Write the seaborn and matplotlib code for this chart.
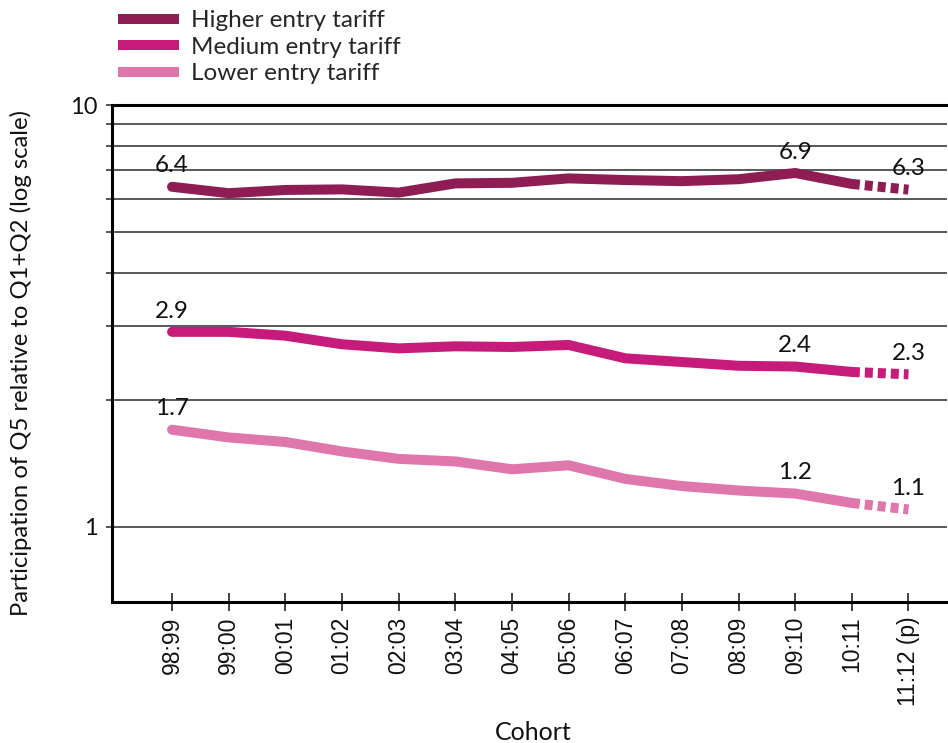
import numpy as np
import pandas as pd
import matplotlib
matplotlib.use("Agg")
import matplotlib.pyplot as plt
from matplotlib.lines import Line2D
from matplotlib.ticker import FixedLocator, FixedFormatter, NullFormatter
import seaborn as sns

# Cohorts (last one is provisional)
cohorts = ["98:99", "99:00", "00:01", "01:02", "02:03", "03:04", "04:05",
           "05:06", "06:07", "07:08", "08:09", "09:10", "10:11", "11:12 (p)"]

# Participation of Q5 relative to Q1+Q2, by entry-tariff group
higher = [6.4, 6.18, 6.29, 6.31, 6.2, 6.52, 6.54, 6.7, 6.64, 6.6, 6.67, 6.9, 6.5, 6.3]
medium = [2.9, 2.9, 2.84, 2.71, 2.65, 2.68, 2.67, 2.70, 2.51, 2.46, 2.41, 2.4, 2.33, 2.3]
lower = [1.7, 1.63, 1.59, 1.51, 1.45, 1.43, 1.37, 1.40, 1.30, 1.25, 1.22, 1.2, 1.14, 1.1]

series_names = ["Higher entry tariff", "Medium entry tariff", "Lower entry tariff"]
colors = ["#8E1D54", "#C71B7B", "#DF76AC"]
labelled_idx = [0, 11, 13]
last_actual = 12  # index of the last non-provisional cohort

sns.set_theme(style="white")
plt.rcParams["font.family"] = ["Lato", "DejaVu Sans"]

frames = []
for name, vals in zip(series_names, [higher, medium, lower]):
    frames.append(pd.DataFrame({"tariff": name,
                                "pos": np.arange(len(cohorts)),
                                "value": vals}))
df = pd.concat(frames, ignore_index=True)
actual = df[df["pos"] <= last_actual]
projected = df[df["pos"] >= last_actual]
palette = dict(zip(series_names, colors))

fig = plt.figure(figsize=(9.48, 7.43), dpi=100)
ax = fig.add_axes([112 / 948, 1 - 602 / 743, 835 / 948, 497 / 743])
ax.set_yscale("log")

LW = 7.2
sns.lineplot(data=actual, x="pos", y="value", hue="tariff", palette=palette,
             hue_order=series_names, errorbar=None, linewidth=LW, legend=False,
             ax=ax, solid_capstyle="round", solid_joinstyle="round", zorder=3)
n_before = len(ax.lines)
sns.lineplot(data=projected, x="pos", y="value", hue="tariff", palette=palette,
             hue_order=series_names, errorbar=None, linewidth=LW, legend=False,
             ax=ax, zorder=3)
for ln in ax.lines[n_before:]:
    ln.set_linestyle((0, (0.8, 0.5)))
    ln.set_dash_capstyle("butt")

# value labels
for vals in [higher, medium, lower]:
    for i in labelled_idx:
        ax.annotate(f"{vals[i]:.1f}", (i, vals[i]), xytext=(0, 15),
                    textcoords="offset points", ha="center", va="center",
                    fontsize=17.5, color="#111111", zorder=4)

# axes limits and scales
ax.set_xlim(-1.06, 13.68)
ax.set_ylim(0.664, 10)

ax.yaxis.set_major_locator(FixedLocator([1, 10]))
ax.yaxis.set_major_formatter(FixedFormatter(["1", "10"]))
ax.yaxis.set_minor_locator(FixedLocator([2, 3, 4, 5, 6, 7, 8, 9]))
ax.yaxis.set_minor_formatter(NullFormatter())
ax.yaxis.grid(True, which="both", color="#3c3c3c", linewidth=1.2)
ax.xaxis.grid(False)
ax.set_axisbelow(True)
ax.tick_params(axis="y", which="both", direction="out", length=4.5, width=1.2,
               color="#3c3c3c", left=True, labelsize=17, pad=6,
               labelcolor="#111111")

ax.set_xticks(range(len(cohorts)))
ax.set_xticklabels(cohorts, rotation=90, family=["Liberation Sans", "DejaVu Sans"])
ax.tick_params(axis="x", direction="inout", length=13, width=1.2, color="#222222",
               bottom=True, labelsize=16.5, pad=4, labelcolor="#111111")

for side in ["top", "left", "bottom"]:
    ax.spines[side].set_visible(True)
    ax.spines[side].set_color("black")
    ax.spines[side].set_linewidth(2.2)
ax.spines["right"].set_visible(False)

ax.set_ylabel("Participation of Q5 relative to Q1+Q2 (log scale)", fontsize=17.2,
              color="#111111")
ax.yaxis.set_label_coords(-0.096, 0.48)
ax.set_xlabel("Cohort", fontsize=18, color="#111111", va="top")
ax.xaxis.set_label_coords(0.504, -0.239)

handles = [Line2D([0], [0], color=c, linewidth=LW, solid_capstyle="butt")
           for c in colors]
fig.legend(handles, series_names, loc="upper left",
           bbox_to_anchor=(118 / 948, 1 - 10 / 743), frameon=False,
           fontsize=17.5, handlelength=2.5, handletextpad=0.5,
           labelspacing=0.23, borderpad=0, borderaxespad=0)

fig.savefig("out.png", dpi=100)
